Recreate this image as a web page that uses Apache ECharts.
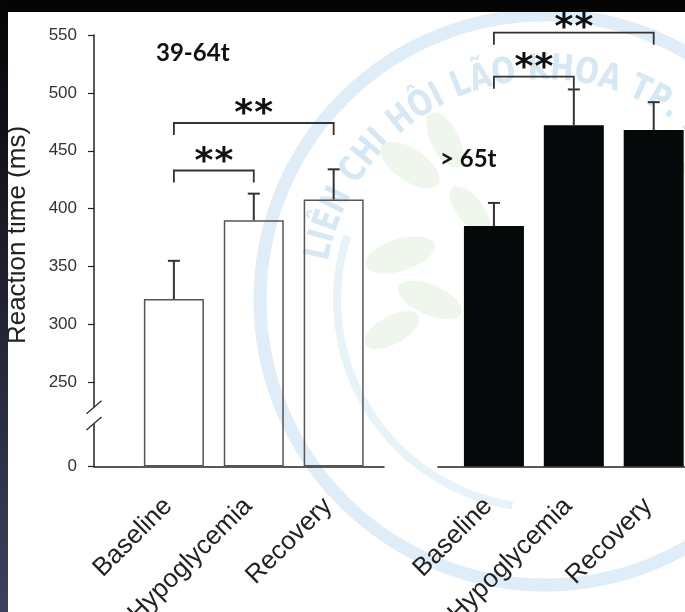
<!DOCTYPE html>
<html>
<head>
<meta charset="utf-8">
<script src="https://cdn.jsdelivr.net/npm/echarts@6/dist/echarts.min.js"></script>
<style>
  html, body { margin: 0; padding: 0; background: #fff; }
  #chart { width: 685px; height: 612px; }
</style>
</head>
<body>
<div id="chart"></div>
<script>
// Reaction time by condition, two age groups
const categories = ['Baseline', 'Hypoglycemia', 'Recovery'];
const groupLabels = ['39-64t', '> 65t'];

const youngMeans = [322, 390, 408];
const youngSem = [33, 23, 26];
const olderMeans = [385, 472, 468];
const olderSem = [20, 31, 24];

// significance brackets: [from category, to category, bracket height (ms), label]
const youngSig = [[0, 1, 433, '**'], [0, 2, 474, '**']];
const olderSig = [[0, 1, 514, '**'], [0, 2, 552, '**']];

const yTicks = [250, 300, 350, 400, 450, 500, 550];
const AXIS_FLOOR = 177.4;          // broken axis: this position is labelled 0
const axisBreak = [214.5, 228.5];  // gap drawn in the y axis line

const emblemText = 'LIÊN CHI HỘI LÃO KHOA TP. HCM';

const FONT = '"Liberation Sans", Arial, sans-serif';

const chart = echarts.init(document.getElementById('chart'), null, { renderer: 'canvas' });

function xAxisFor(gridIndex, min, max) {
  return {
    type: 'value', gridIndex, min, max,
    axisLine: { show: true, onZero: false, lineStyle: { color: '#222', width: 1.5 } },
    axisTick: { show: false },
    splitLine: { show: false },
    axisLabel: {
      customValues: [1, 2, 3],
      formatter: v => categories[Math.round(v) - 1],
      rotate: 45, margin: 30, padding: [0, 8, 0, 0],
      fontFamily: FONT, fontSize: 26, color: '#222'
    }
  };
}

function yAxisFor(gridIndex, visible) {
  const ticks = [AXIS_FLOOR].concat(yTicks);
  return {
    type: 'value', gridIndex, show: visible,
    min: AXIS_FLOOR, max: 550, startValue: AXIS_FLOOR,
    axisLine: { show: true, onZero: false, lineStyle: { color: '#222', width: 1.5 } },
    axisTick: { show: true, customValues: ticks, length: 6, lineStyle: { color: '#222', width: 1.2 } },
    splitLine: { show: false },
    axisLabel: {
      customValues: ticks, margin: 17,
      formatter: v => (Math.abs(v - AXIS_FLOOR) < 1e-6 ? '0' : String(v)),
      fontFamily: FONT, fontSize: 17, color: '#333'
    }
  };
}

function barSeries(idx, means, fill, border) {
  return {
    type: 'bar', xAxisIndex: idx, yAxisIndex: idx,
    data: means.map((v, i) => [i + 1, v]),
    barWidth: 60, clip: true,
    itemStyle: { color: fill, borderColor: border, borderWidth: 1.5 },
    z: 2
  };
}

function errorSeries(idx, means, sem) {
  return {
    type: 'custom', xAxisIndex: idx, yAxisIndex: idx,
    data: means.map((v, i) => [i + 1, v, v + sem[i]]),
    renderItem(params, api) {
      const p0 = api.coord([api.value(0), api.value(1)]);
      const p1 = api.coord([api.value(0), api.value(2)]);
      const style = { stroke: '#333', lineWidth: 2 };
      return {
        type: 'group', children: [
          { type: 'line', shape: { x1: p0[0], y1: p0[1], x2: p1[0], y2: p1[1] }, style },
          { type: 'line', shape: { x1: p1[0] - 6, y1: p1[1], x2: p1[0] + 6, y2: p1[1] }, style }
        ]
      };
    },
    z: 3
  };
}

// starLift: pixel distance from each bracket line up to its stars
function bracketSeries(idx, sig, starLift) {
  return {
    type: 'custom', xAxisIndex: idx, yAxisIndex: idx,
    data: sig.map(s => [s[0] + 1, s[1] + 1, s[2], s[3]]),
    renderItem(params, api) {
      const y = api.value(2);
      const a = api.coord([api.value(0), y]);
      const b = api.coord([api.value(1), y]);
      const mid = (a[0] + b[0]) / 2;
      const label = String(api.value(3));
      const lift = starLift[params.dataIndex];
      const stars = label.split('').map((ch, k) => ({
        type: 'text',
        x: mid + (k - (label.length - 1) / 2) * 20,
        y: a[1] - lift + 8,
        style: {
          text: ch, fill: '#111', align: 'center', verticalAlign: 'middle',
          font: 'bold 36px "DejaVu Sans", sans-serif'
        }
      }));
      return {
        type: 'group', children: [
          {
            type: 'polyline',
            shape: { points: [[a[0], a[1] + 12], a, b, [b[0], b[1] + 12]] },
            style: { stroke: '#333', lineWidth: 1.8, fill: null }
          }
        ].concat(stars)
      };
    },
    z: 4
  };
}

// gap and slashes on the left y axis line
const breakSeries = {
  type: 'custom', xAxisIndex: 0, yAxisIndex: 0,
  data: [[0, axisBreak[0], axisBreak[1]]],
  renderItem(params, api) {
    const lo = api.coord([api.value(0), api.value(1)]);
    const hi = api.coord([api.value(0), api.value(2)]);
    const x = lo[0];
    const slash = (y) => ({
      type: 'line',
      shape: { x1: x - 7.5, y1: y + 6.5, x2: x + 7.5, y2: y - 6.5 },
      style: { stroke: '#333', lineWidth: 1.4 }
    });
    return {
      type: 'group', children: [
        { type: 'rect', shape: { x: x - 4, y: hi[1], width: 8, height: lo[1] - hi[1] }, style: { fill: '#fff' } },
        slash(hi[1]), slash(lo[1])
      ]
    };
  },
  z: 5
};

// faint circular emblem in the background: ring, arched lettering, leaves
function emblem() {
  const cx = 545, cy = 300, ringR = 285, textR = 230, squeeze = 0.78;
  const font = 'bold 36px "DejaVu Sans", sans-serif';
  const ctx = document.createElement('canvas').getContext('2d');
  ctx.font = font;
  const els = [
    { type: 'circle', z: -10, shape: { cx, cy, r: ringR },
      style: { fill: null, stroke: '#deedf7', lineWidth: 13 } },
    { type: 'arc', z: -10, shape: { cx, cy, r: 208, startAngle: Math.PI * 0.55, endAngle: Math.PI * 1.1 },
      style: { fill: null, stroke: '#e8f2f9', lineWidth: 8 } }
  ];
  let ang = 190 * Math.PI / 180;
  for (const ch of emblemText) {
    const w = ctx.measureText(ch).width * squeeze + 1;
    const mid = ang + (w / 2) / textR;
    els.push({
      type: 'text', z: -10,
      x: cx + textR * Math.cos(mid), y: cy + textR * Math.sin(mid),
      rotation: Math.PI * 1.5 - mid, scaleX: squeeze,
      style: { text: ch, font, fill: '#d6e8f4', align: 'center', verticalAlign: 'middle' }
    });
    ang += w / textR;
  }
  const leaves = [
    [410, 165, 34, 16, -0.6], [445, 140, 30, 14, -1.1], [400, 255, 36, 16, 0.3],
    [430, 300, 34, 15, -0.4], [392, 330, 30, 14, 0.5], [470, 210, 28, 13, -0.9],
    [575, 205, 28, 13, -0.5], [660, 180, 30, 14, 0.6]
  ];
  for (const [x, y, rx, ry, rot] of leaves) {
    els.push({ type: 'ellipse', z: -10, x, y, rotation: rot,
      shape: { cx: 0, cy: 0, rx, ry }, style: { fill: '#eff6ec' } });
  }
  return els;
}

const groupLabelStyle = { fontFamily: 'Lato, "Open Sans", sans-serif', fontWeight: 'bold', fontSize: 24, color: '#111' };

const option = {
  backgroundColor: '#fff',
  animation: false,
  grid: [
    { left: 94, top: 35, width: 290, height: 431.5, outerBoundsMode: 'none', containLabel: false },
    { left: 438, top: 35, width: 290, height: 431.5, outerBoundsMode: 'none', containLabel: false }
  ],
  xAxis: [xAxisFor(0, 0, 3.63), xAxisFor(1, 0.3, 3.93)],
  yAxis: [yAxisFor(0, true), yAxisFor(1, false)],
  title: [
    { text: groupLabels[0], left: 151, top: 36, textStyle: groupLabelStyle },
    { text: groupLabels[1], left: 435, top: 142, textStyle: groupLabelStyle }
  ],
  graphic: emblem().concat([
    { type: 'rect', z: 100, shape: { x: 0, y: 0, width: 685, height: 12 }, style: { fill: '#050506' } },
    { type: 'rect', z: 100, shape: { x: 0, y: 0, width: 8, height: 612 },
      style: { fill: new echarts.graphic.LinearGradient(0, 0, 0, 1, [
        { offset: 0, color: '#050506' }, { offset: 1, color: '#3e405e' }
      ]) } },
    { type: 'text', z: 10, x: 18, y: 235, rotation: Math.PI / 2,
      style: { text: 'Reaction time (ms)', align: 'center', verticalAlign: 'middle',
        font: '26px "Liberation Sans", Arial, sans-serif', fill: '#222' } }
  ]),
  series: [
    // open (unfilled) bars for the younger group
    barSeries(0, youngMeans, 'rgba(255,255,255,0)', '#555'),
    barSeries(1, olderMeans, '#060909', '#060909'),
    errorSeries(0, youngMeans, youngSem),
    errorSeries(1, olderMeans, olderSem),
    bracketSeries(0, youngSig, [16, 16]),
    bracketSeries(1, olderSig, [16, 12]),
    breakSeries
  ]
};

chart.setOption(option);
</script>
</body>
</html>
